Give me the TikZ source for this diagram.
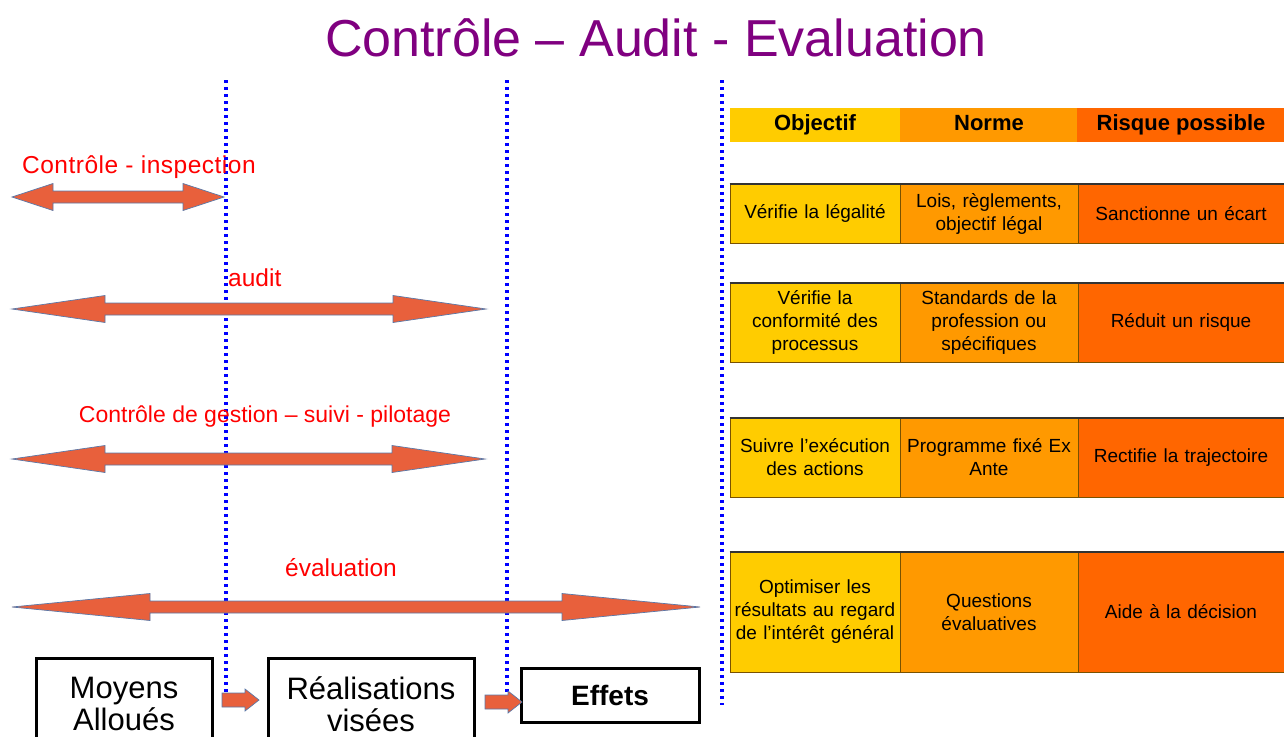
\documentclass[tikz,border=0pt]{standalone}
\usepackage{fontspec}
\setmainfont{Liberation Sans}
\definecolor{titlepurple}{HTML}{800080}
\definecolor{arrowfill}{HTML}{E8603C}
\definecolor{arrowedge}{HTML}{5A78A8}
\definecolor{colA}{HTML}{FFCC00}
\definecolor{colB}{HTML}{FF9900}
\definecolor{colC}{HTML}{FF6600}
\definecolor{cellline}{HTML}{7A5200}
\definecolor{rowtop}{HTML}{333333}

% double-headed block arrow: left tip x, right tip x, y, head length
\newcommand\spanarrow[4]{%
  \draw[band] (#1,#3) -- ({#1+#4},{#3-13.5}) -- ({#1+#4},{#3-6}) --
    ({#2-#4},{#3-6}) -- ({#2-#4},{#3-13.5}) -- (#2,#3) --
    ({#2-#4},{#3+13.5}) -- ({#2-#4},{#3+6}) -- ({#1+#4},{#3+6}) --
    ({#1+#4},{#3+13.5}) -- cycle;}
% short single block arrow: tail x, tip x, y
\newcommand\steparrow[3]{%
  \draw[band] (#1,{#3-7}) -- ({#2-14},{#3-7}) -- ({#2-14},{#3-11}) -- (#2,#3) --
    ({#2-14},{#3+11}) -- ({#2-14},{#3+7}) -- (#1,{#3+7}) -- cycle;}

\begin{document}
\begin{tikzpicture}[x=1pt,y=-1pt,
  guide/.style={blue, line width=3.4pt, dash pattern=on 3.2pt off 3.8pt},
  band/.style={fill=arrowfill, draw=arrowedge, line width=0.7pt, line join=miter},
  tag/.style={text=red, font=\fontsize{24.5}{28}\selectfont, inner sep=0pt},
  stage/.style={draw=black, line width=3pt, align=center, inner sep=0pt,
    font=\fontsize{31}{32}\selectfont},
  head/.style={inner sep=0pt, align=center, minimum height=34pt,
    text height=16pt, text depth=5pt, font=\bfseries\fontsize{22}{24}\selectfont},
  cell/.style={draw=cellline, line width=1pt, align=center, inner sep=2pt,
    font=\fontsize{19}{23}\selectfont},
  wA/.style={minimum width=170pt, text width=164pt},
  wB/.style={minimum width=178pt, text width=172pt},
  wC/.style={minimum width=206pt, text width=200pt},
]
\clip (0,0) rectangle (1284,736);
\fill[white] (0,0) rectangle (1284,736);

% title
\node[text=titlepurple, font=\fontsize{52}{56}\selectfont] (title) at (656,38) {Contrôle – Audit - Evaluation};

% phase boundaries
\draw[guide] (226,80) -- (226,697);
\draw[guide] (507,80) -- (507,700);
\draw[guide] (722,80) -- (722,705);

% scopes of each approach
\spanarrow{12}{224}{197}{41}
\spanarrow{12}{486}{309}{93}
\spanarrow{12}{485}{459}{93}
\spanarrow{12}{700}{607}{138}

\node[tag, anchor=west, font=\addfontfeatures{LetterSpace=2}\fontsize{24.5}{28}\selectfont] (l1) at (22,167) {Contrôle - inspection};
\node[tag, anchor=west] (l2) at (228,278) {audit};
\node[tag, font=\fontsize{23}{26}\selectfont] (l3) at (265,417) {Contrôle de gestion – suivi - pilotage};
\node[tag] (l4) at (341,568) {évaluation};

% result chain
\node[stage, minimum width=176pt, minimum height=92pt] (moy) at (124,704) {Moyens\\Alloués};
\node[stage, minimum width=206pt, minimum height=92pt] (rea) at (371,704) {Réalisations\\visées};
\node[stage, minimum width=178pt, minimum height=54pt, font=\bfseries\fontsize{28}{30}\selectfont] (eff) at (610,695) {Effets};
\steparrow{222}{259}{700}
\steparrow{485}{522}{702}

% table header
\node[head, fill=colA, wA] (hA) at (815,125) {Objectif};
\node[head, fill=colB, wB] (hB) at (989,125) {Norme};
\node[head, fill=colC, minimum width=208pt] (hC) at (1181,125) {Risque possible};

% table rows
\node[cell, fill=colA, wA, minimum height=59pt] (a1) at (815,213.5) {Vérifie la légalité};
\node[cell, fill=colB, wB, minimum height=59pt] (b1) at (989,213.5) {Lois, règlements,\\objectif légal};
\node[cell, fill=colC, wC, minimum height=59pt] (c1) at (1181,213.5) {Sanctionne un écart};

\node[cell, fill=colA, wA, minimum height=79pt] (a2) at (815,322.5) {Vérifie la\\conformité des\\processus};
\node[cell, fill=colB, wB, minimum height=79pt] (b2) at (989,322.5) {Standards de la\\profession ou\\spécifiques};
\node[cell, fill=colC, wC, minimum height=79pt] (c2) at (1181,322.5) {Réduit un risque};

\node[cell, fill=colA, wA, minimum height=79pt] (a3) at (815,457.5) {Suivre l'exécution\\des actions};
\node[cell, fill=colB, wB, minimum height=79pt] (b3) at (989,457.5) {Programme fixé Ex\\Ante};
\node[cell, fill=colC, wC, minimum height=79pt] (c3) at (1181,457.5) {Rectifie la trajectoire};

\node[cell, fill=colA, wA, minimum height=120pt] (a4) at (815,612) {Optimiser les\\résultats au regard\\de l'intérêt général};
\node[cell, fill=colB, wB, minimum height=120pt] (b4) at (989,612) {Questions\\évaluatives};
\node[cell, fill=colC, wC, minimum height=120pt] (c4) at (1181,612) {Aide à la décision};

% darker top rule on each row
\foreach \r in {1,2,3,4}
  \draw[rowtop, line width=2pt] (a\r.north west) -- (c\r.north east);
\end{tikzpicture}
\end{document}
